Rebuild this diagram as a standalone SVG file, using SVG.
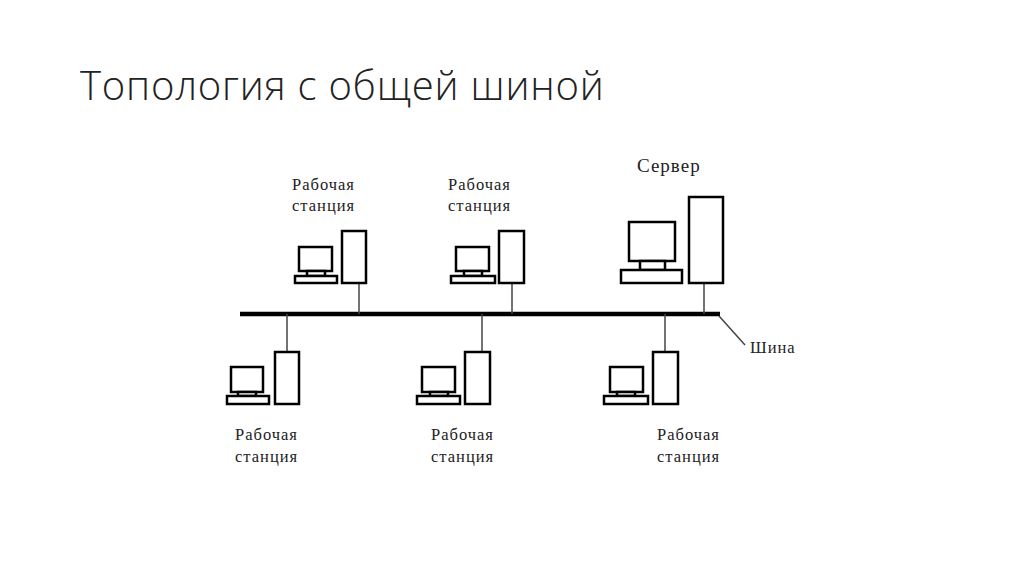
<svg xmlns="http://www.w3.org/2000/svg" width="1024" height="574" viewBox="0 0 1024 574">
<style>
.b{fill:#fff;stroke:#000;stroke-width:2.5}
.l{stroke:#444;stroke-width:1.5;fill:none}
.t{font-family:"Liberation Serif",serif;font-size:16.5px;letter-spacing:1px;fill:#222}
.h{font-family:"Open Sans","Liberation Sans",sans-serif;font-weight:300;font-size:40px;letter-spacing:0.8px;fill:#222}
</style>
<rect width="1024" height="574" fill="#fff"/>
<text class="h" x="80" y="100">Топология с общей шиной</text>
<g id="connectors">
<line x1="240" y1="314" x2="720" y2="314" stroke="#000" stroke-width="4.5"/>
<line class="l" x1="359" y1="283" x2="359" y2="314"/>
<line class="l" x1="512" y1="283" x2="512" y2="314"/>
<line class="l" x1="704" y1="283" x2="704" y2="314"/>
<line class="l" x1="287" y1="314" x2="287" y2="352"/>
<line class="l" x1="482" y1="314" x2="482" y2="352"/>
<line class="l" x1="665" y1="314" x2="665" y2="352"/>
<line class="l" x1="719" y1="316" x2="745" y2="345"/>
</g>
<g id="ws-top-1">
<rect class="b" x="299" y="247" width="33" height="24"/><rect class="b" x="307" y="271" width="18" height="5"/><rect class="b" x="295" y="276" width="42" height="7"/><rect class="b" x="342" y="231" width="24" height="52"/>
<text class="t" x="292" y="190">Рабочая</text><text class="t" x="292" y="211">станция</text>
</g>
<g id="ws-top-2">
<rect class="b" x="456" y="247" width="33" height="24"/><rect class="b" x="464" y="271" width="18" height="5"/><rect class="b" x="451" y="276" width="44" height="7"/><rect class="b" x="499" y="231" width="25" height="52"/>
<text class="t" x="448" y="190">Рабочая</text><text class="t" x="448" y="211">станция</text>
</g>
<g id="server">
<rect class="b" x="629" y="222" width="46" height="39"/><rect class="b" x="640" y="261" width="25" height="9"/><rect class="b" x="621" y="270" width="61" height="13"/><rect class="b" x="689" y="197" width="34" height="86"/>
<text class="t" x="637" y="172" style="font-size:19px">Сервер</text>
</g>
<g id="ws-bot-1">
<rect class="b" x="231" y="367" width="32" height="25"/><rect class="b" x="238" y="392" width="18" height="4"/><rect class="b" x="227" y="396" width="42" height="8"/><rect class="b" x="275" y="352" width="24" height="52"/>
<text class="t" x="235" y="440">Рабочая</text><text class="t" x="235" y="462">станция</text>
</g>
<g id="ws-bot-2">
<rect class="b" x="422" y="367" width="33" height="25"/><rect class="b" x="430" y="392" width="18" height="4"/><rect class="b" x="417" y="396" width="43" height="8"/><rect class="b" x="465" y="352" width="25" height="52"/>
<text class="t" x="431" y="440">Рабочая</text><text class="t" x="431" y="462">станция</text>
</g>
<g id="ws-bot-3">
<rect class="b" x="610" y="367" width="33" height="25"/><rect class="b" x="617" y="392" width="18" height="4"/><rect class="b" x="604" y="396" width="44" height="8"/><rect class="b" x="653" y="352" width="25" height="52"/>
<text class="t" x="657" y="440">Рабочая</text><text class="t" x="657" y="462">станция</text>
</g>
<g id="bus-label"><text class="t" x="750" y="353">Шина</text></g>
</svg>
